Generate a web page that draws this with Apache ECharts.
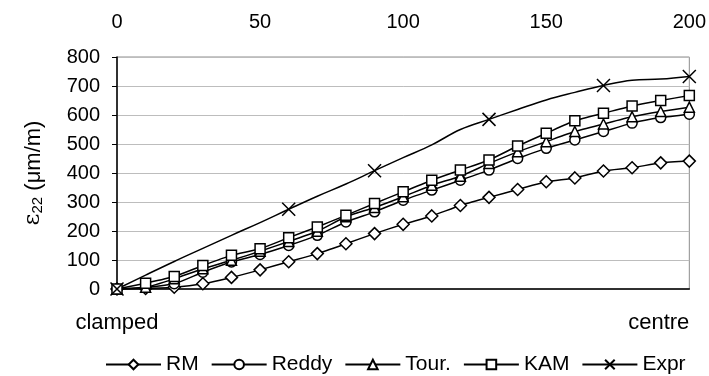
<!DOCTYPE html>
<html>
<head>
<meta charset="utf-8">
<script src="https://cdn.jsdelivr.net/npm/echarts@6/dist/echarts.min.js"></script>
<style>
  html, body { margin: 0; padding: 0; background: #fff; }
  #chart { width: 709px; height: 376px; }
</style>
</head>
<body>
<div id="chart"></div>
<script>
// distance along the plate (same positions for every series)
const positions = [0, 10, 20, 30, 40, 50, 60, 70, 80, 90, 100, 110, 120, 130, 140, 150, 160, 170, 180, 190, 200]
const xTicks = [0, 50, 100, 150, 200]
const yTicks = [0, 100, 200, 300, 400, 500, 600, 700, 800]

// strain values
const rm    = [0, 2, 6, 18, 40, 66, 94, 122, 156, 191, 223, 252, 288, 316, 343, 370, 383, 407, 418, 435, 441]
const reddy = [0, 6, 18, 58, 93, 119, 150, 185, 231, 266, 306, 341, 375, 410, 450, 485, 514, 543, 572, 591, 603]
const tour  = [0, 6, 35, 70, 99, 130, 164, 199, 249, 281, 318, 358, 389, 433, 473, 508, 543, 569, 594, 612, 627]
const kam   = [0, 20, 43, 81, 116, 139, 177, 214, 254, 295, 335, 375, 410, 445, 493, 537, 580, 606, 631, 650, 667]
const expr  = [0, 48, 95, 140, 185, 229, 275, 320, 362, 408, 453, 497, 550, 585, 619, 652, 678, 702, 720, 724, 733]
// Expr only carries a marker at a few positions
const exprMarked = [0, 60, 90, 130, 170, 200]

const FONT = "'Liberation Sans', Arial, sans-serif"
const crossPath = 'path://M0,0L10,10M10,0L0,10'

const chart = echarts.init(document.getElementById('chart'))

const mkSeries = (name, values, symbol, size) => ({
  name,
  type: 'line',
  xAxisIndex: 0,
  data: positions.map((p, i) => [p, values[i]]),
  symbol,
  symbolSize: size,
  smooth: 0.2,
  lineStyle: { color: '#000', width: 1.5 },
  itemStyle: { color: '#fff', borderColor: '#000', borderWidth: 1.5 },
  emphasis: { disabled: true },
  z: 3
})

const exprSeries = mkSeries('Expr', expr, crossPath, 13)
exprSeries.smooth = 0.4
exprSeries.data = positions.map((p, i) => (
  exprMarked.includes(p) ? [p, expr[i]] : { value: [p, expr[i]], symbol: 'none' }
))
exprSeries.itemStyle = { color: '#000', borderColor: '#000', borderWidth: 1.5 }

const option = {
  animation: false,
  textStyle: { fontFamily: FONT },
  grid: { left: 117, right: 18, top: 57, bottom: 87, show: true, borderColor: '#8c8c8c', borderWidth: 1 },
  xAxis: [{
    type: 'value', position: 'top', min: 0, max: 200, interval: 50,
    axisLine: { show: false }, axisTick: { show: false }, splitLine: { show: false },
    axisLabel: { color: '#000', fontSize: 20, margin: 25, fontFamily: FONT,
      customValues: xTicks }
  }, {
    type: 'value', position: 'bottom', min: 0, max: 200, interval: 200,
    axisLine: { show: true, lineStyle: { color: '#000', width: 1.5 } },
    axisTick: { show: false }, splitLine: { show: false },
    axisLabel: { color: '#000', fontSize: 22, margin: 23, fontFamily: FONT,
      alignMaxLabel: 'right',
      formatter: v => (v === 0 ? 'clamped' : v === 200 ? 'centre' : '') }
  }],
  yAxis: {
    type: 'value', min: 0, max: 800, interval: 100,
    name: '{e|ε}{s|22} (μm/m)', nameLocation: 'middle', nameGap: 72, nameRotate: 90,
    nameTextStyle: {
      color: '#000', fontSize: 22, fontFamily: FONT,
      rich: { e: { fontSize: 23, fontFamily: "'DejaVu Serif', serif", color: '#000' },
              s: { fontSize: 15, verticalAlign: 'bottom', color: '#000', padding: [7, 0, 0, 0] } }
    },
    axisLine: { show: true, lineStyle: { color: '#000', width: 1.5 } },
    axisTick: { show: true, inside: false, length: 5, lineStyle: { color: '#000' } },
    splitLine: { lineStyle: { color: '#bdbdbd', width: 1 } },
    axisLabel: { color: '#000', fontSize: 20, margin: 17, fontFamily: FONT, customValues: yTicks }
  },
  legend: {
    left: 100, top: 349, itemWidth: 55, itemHeight: 12, itemGap: 12,
    textStyle: { color: '#000', fontSize: 21, fontFamily: FONT },
    data: ['RM', 'Reddy', 'Tour.', 'KAM', 'Expr']
  },
  series: [
    mkSeries('RM', rm, 'diamond', 12),
    mkSeries('Reddy', reddy, 'circle', 10),
    mkSeries('Tour.', tour, 'triangle', 10),
    mkSeries('KAM', kam, 'rect', 10),
    exprSeries
  ]
}

chart.setOption(option)
window.addEventListener('resize', () => chart.resize())
</script>
</body>
</html>
